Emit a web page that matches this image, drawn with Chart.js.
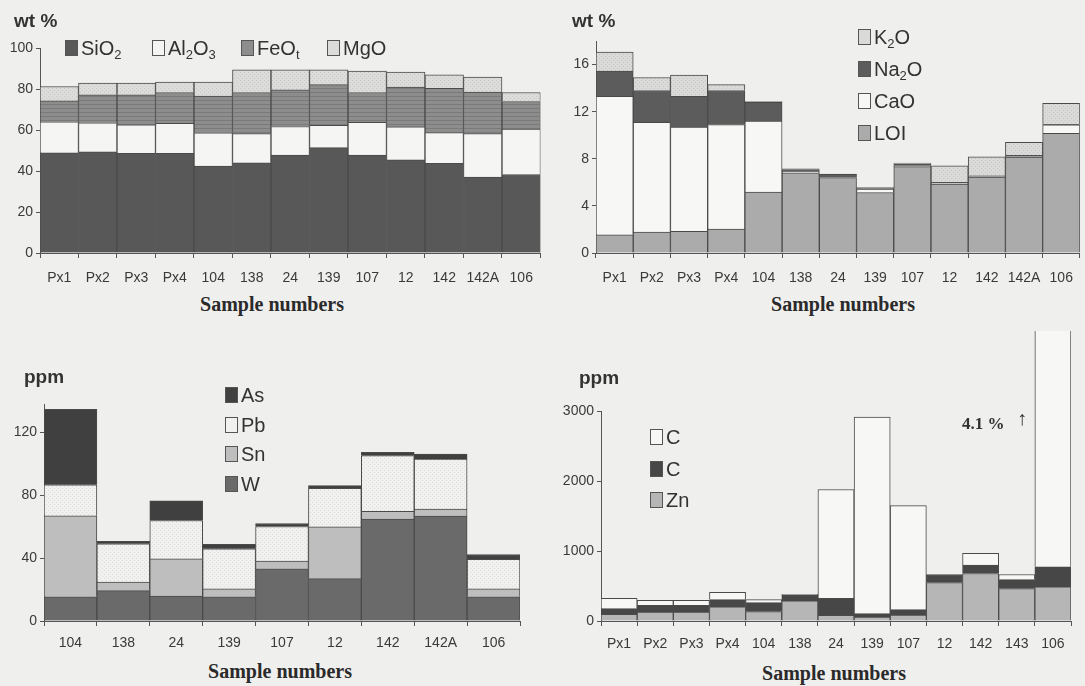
<!DOCTYPE html>
<html>
<head>
<meta charset="utf-8">
<script src="https://cdn.jsdelivr.net/npm/chart.js@4/dist/chart.umd.min.js"></script>
<style>
  body { margin: 0; background: #efefed; }
  #page { position: relative; width: 1085px; height: 686px; overflow: hidden; background: #efefed; font-family: "Liberation Sans", Arial, sans-serif; color: #333; }
  canvas { position: absolute; }
  .unite { position: absolute; font-weight: bold; font-size: 19px; color: #333; }
  .titre { position: absolute; font-family: "Liberation Serif", serif; font-weight: bold; font-size: 20px; color: #2a2a2a; transform: translateX(-50%); white-space: nowrap; }
  .leg { position: absolute; font-size: 20px; color: #333; white-space: nowrap; line-height: 20px; }
  .leg i { display: inline-block; width: 11px; height: 14px; border: 1px solid #555; margin-right: 3px; vertical-align: -1px; }
  .leg sub { font-size: 13px; vertical-align: -4px; }
  #pourcent { position: absolute; left: 962px; top: 414px; font-family: "Liberation Serif", serif; font-weight: bold; font-size: 17px; color: #333; }
  #fleche { position: absolute; left: 1017px; top: 407px; font-size: 20px; color: #333; }
</style>
</head>
<body>
<div id="page">
  <canvas id="majeurs" width="545" height="290" style="left:0;top:0"></canvas>
  <canvas id="mineurs" width="540" height="290" style="left:545px;top:0"></canvas>
  <canvas id="traces1" width="545" height="320" style="left:0;top:330px"></canvas>
  <canvas id="traces2" width="540" height="320" style="left:545px;top:330px"></canvas>

  <div class="unite" style="left:14px;top:10px">wt %</div>
  <div class="unite" style="left:572px;top:10px">wt %</div>
  <div class="unite" style="left:24px;top:366px">ppm</div>
  <div class="unite" style="left:579px;top:367px">ppm</div>

  <div class="titre" style="left:272px;top:293px">Sample numbers</div>
  <div class="titre" style="left:843px;top:293px">Sample numbers</div>
  <div class="titre" style="left:280px;top:660px">Sample numbers</div>
  <div class="titre" style="left:834px;top:662px">Sample numbers</div>

  <div id="legendes"></div>
  <div id="pourcent">4.1 %</div>
  <div id="fleche">↑</div>
</div>
<script>
// echantillons
const echantillons = ['Px1', 'Px2', 'Px3', 'Px4', '104', '138', '24', '139', '107', '12', '142', '142A', '106']
const echantillonsTraces = ['104', '138', '24', '139', '107', '12', '142', '142A', '106']
const echantillonsCZn = ['Px1', 'Px2', 'Px3', 'Px4', '104', '138', '24', '139', '107', '12', '142', '143', '106']

// elements majeurs (wt %)
const sio2 = [48.9, 49.4, 48.6, 48.6, 42.4, 44.0, 47.8, 51.4, 47.8, 45.4, 43.7, 37.0, 38.3]
const al2o3 = [15.1, 14.1, 13.9, 14.7, 16.2, 14.2, 13.9, 10.9, 16.0, 16.1, 15.0, 21.2, 22.1]
const feot = [10.2, 13.7, 14.7, 15.0, 17.9, 20.1, 17.9, 19.8, 14.5, 19.4, 21.6, 20.3, 13.5]
const mgo = [7.0, 5.7, 5.7, 5.1, 6.9, 11.1, 9.8, 7.3, 10.4, 7.4, 6.6, 7.3, 4.4]

// elements mineurs (wt %)
const loi = [1.55, 1.78, 1.84, 2.03, 5.17, 6.8, 6.4, 5.14, 7.34, 5.85, 6.44, 8.14, 10.17]
const cao = [11.75, 9.32, 8.86, 8.87, 6.03, 0.14, 0.05, 0.28, 0.06, 0.08, 0.06, 0.06, 0.71]
const na2o = [2.15, 2.7, 2.6, 2.9, 1.6, 0.14, 0.22, 0.06, 0.17, 0.06, 0.05, 0.1, 0.05]
const k2o = [1.6, 1.1, 1.8, 0.5, 0.05, 0.06, 0.03, 0.08, 0.06, 1.41, 1.61, 1.1, 1.77]

// traces (ppm)
const w = [15.4, 19.3, 15.9, 15.4, 33.2, 26.9, 64.8, 66.7, 15.4]
const sn = [51.5, 5.5, 23.7, 5.1, 4.9, 33.0, 5.0, 4.4, 5.1]
const pb = [19.7, 24.3, 24.3, 25.4, 22.0, 24.5, 35.4, 31.8, 18.7]
const as = [48, 1.5, 12.5, 2.8, 1.9, 1.7, 2.1, 3.3, 3.1]

// C et Zn (ppm) - 106 : 4.1 % hors echelle
const zn = [96, 129, 129, 201, 134, 287, 81, 57, 86, 549, 678, 463, 487]
const cFonce = [81, 96, 96, 105, 129, 81, 244, 48, 76, 115, 120, 129, 287]
const cClair = [148, 71, 71, 105, 43, 14, 1553, 2809, 1486, 0, 167, 72, 40226]

// motif de remplissage (trame du scan)
function motif(base, genre) {
  const c = document.createElement('canvas')
  c.width = 4; c.height = 4
  const g = c.getContext('2d')
  g.fillStyle = base
  g.fillRect(0, 0, 4, 4)
  if (genre === 'lignes') { g.fillStyle = 'rgba(0,0,0,0.13)'; g.fillRect(0, 0, 4, 1) }
  if (genre === 'points') { g.fillStyle = 'rgba(0,0,0,0.09)'; g.fillRect(0, 0, 1, 1); g.fillRect(2, 2, 1, 1) }
  return g.createPattern(c, 'repeat')
}

function serie(label, data, couleur) {
  return {
    label: label, data: data, backgroundColor: couleur,
    borderColor: '#4a4a4a', borderWidth: 1,
    barPercentage: 1, categoryPercentage: 1
  }
}

const police = { family: 'Liberation Sans', size: 14 }

// zone = [gauche, haut, droite, bas] de la zone de trace dans le canvas
function graphe(id, labels, datasets, zone, max, pas, ecartX) {
  const cv = document.getElementById(id)
  return new Chart(cv, {
    type: 'bar',
    data: { labels: labels, datasets: datasets },
    options: {
      responsive: false, animation: false, devicePixelRatio: 1,
      layout: { padding: { left: 0, top: zone[1], right: cv.width - zone[2], bottom: 0 } },
      plugins: { legend: { display: false }, tooltip: { enabled: false } },
      scales: {
        x: {
          stacked: true,
          grid: { offset: true, drawOnChartArea: false, tickLength: 5, color: '#555' },
          border: { color: '#555' },
          ticks: { font: police, color: '#3a3a3a', maxRotation: 0, autoSkip: false, padding: ecartX },
          afterFit: (s) => { s.height = cv.height - zone[3] }
        },
        y: {
          stacked: true, min: 0, max: max,
          grid: { drawOnChartArea: false, tickLength: 4, color: '#555' },
          border: { color: '#555' },
          ticks: { stepSize: pas, includeBounds: false, font: police, color: '#3a3a3a', padding: 3,
            callback: (v) => String(v) },
          afterFit: (s) => { s.width = zone[0] }
        }
      }
    }
  })
}

graphe('majeurs', echantillons, [
  serie('SiO2', sio2, '#585858'),
  serie('Al2O3', al2o3, '#f5f5f3'),
  serie('FeOt', feot, motif('#8d8d8d', 'lignes')),
  serie('MgO', mgo, motif('#dcdcda', 'points'))
], [40, 48, 543, 253], 100, 20, 12)

graphe('mineurs', echantillons, [
  serie('LOI', loi, '#ababab'),
  serie('CaO', cao, '#f7f7f5'),
  serie('Na2O', na2o, '#5c5c5c'),
  serie('K2O', k2o, motif('#dadad8', 'points'))
], [51, 41, 538, 253], 18, 4, 12)

graphe('traces1', echantillonsTraces, [
  serie('W', w, '#6a6a6a'),
  serie('Sn', sn, '#bebebe'),
  serie('Pb', pb, motif('#f1f1ef', 'points')),
  serie('As', as, '#404040')
], [44, 74, 520, 291], 138, 40, 9)

const clair = serie('C', cClair, '#f7f7f5')
clair.clip = { left: 0, top: 80, right: 0, bottom: 0 }
graphe('traces2', echantillonsCZn, [
  serie('Zn', zn, '#b6b6b6'),
  serie('C', cFonce, '#474747'),
  clair
], [56, 81, 526, 291], 3000, 1000, 10)

// legendes
const legendes = [
  [65, 38, '#585858', 'SiO<sub>2</sub>'],
  [152, 38, '#f5f5f3', 'Al<sub>2</sub>O<sub>3</sub>'],
  [241, 38, '#8d8d8d', 'FeO<sub>t</sub>'],
  [327, 38, '#dcdcda', 'MgO'],
  [858, 27, '#dadad8', 'K<sub>2</sub>O'],
  [858, 59, '#5c5c5c', 'Na<sub>2</sub>O'],
  [858, 91, '#f7f7f5', 'CaO'],
  [858, 123, '#ababab', 'LOI'],
  [225, 385, '#404040', 'As'],
  [225, 415, '#f1f1ef', 'Pb'],
  [225, 444, '#bebebe', 'Sn'],
  [225, 474, '#6a6a6a', 'W'],
  [650, 427, '#f7f7f5', 'C'],
  [650, 459, '#474747', 'C'],
  [650, 490, '#b6b6b6', 'Zn']
]
let html = ''
for (let l of legendes) {
  html += `<div class="leg" style="left:${l[0]}px;top:${l[1]}px"><i style="background:${l[2]}"></i>${l[3]}</div>`
}
document.getElementById('legendes').innerHTML = html
</script>
</body>
</html>
